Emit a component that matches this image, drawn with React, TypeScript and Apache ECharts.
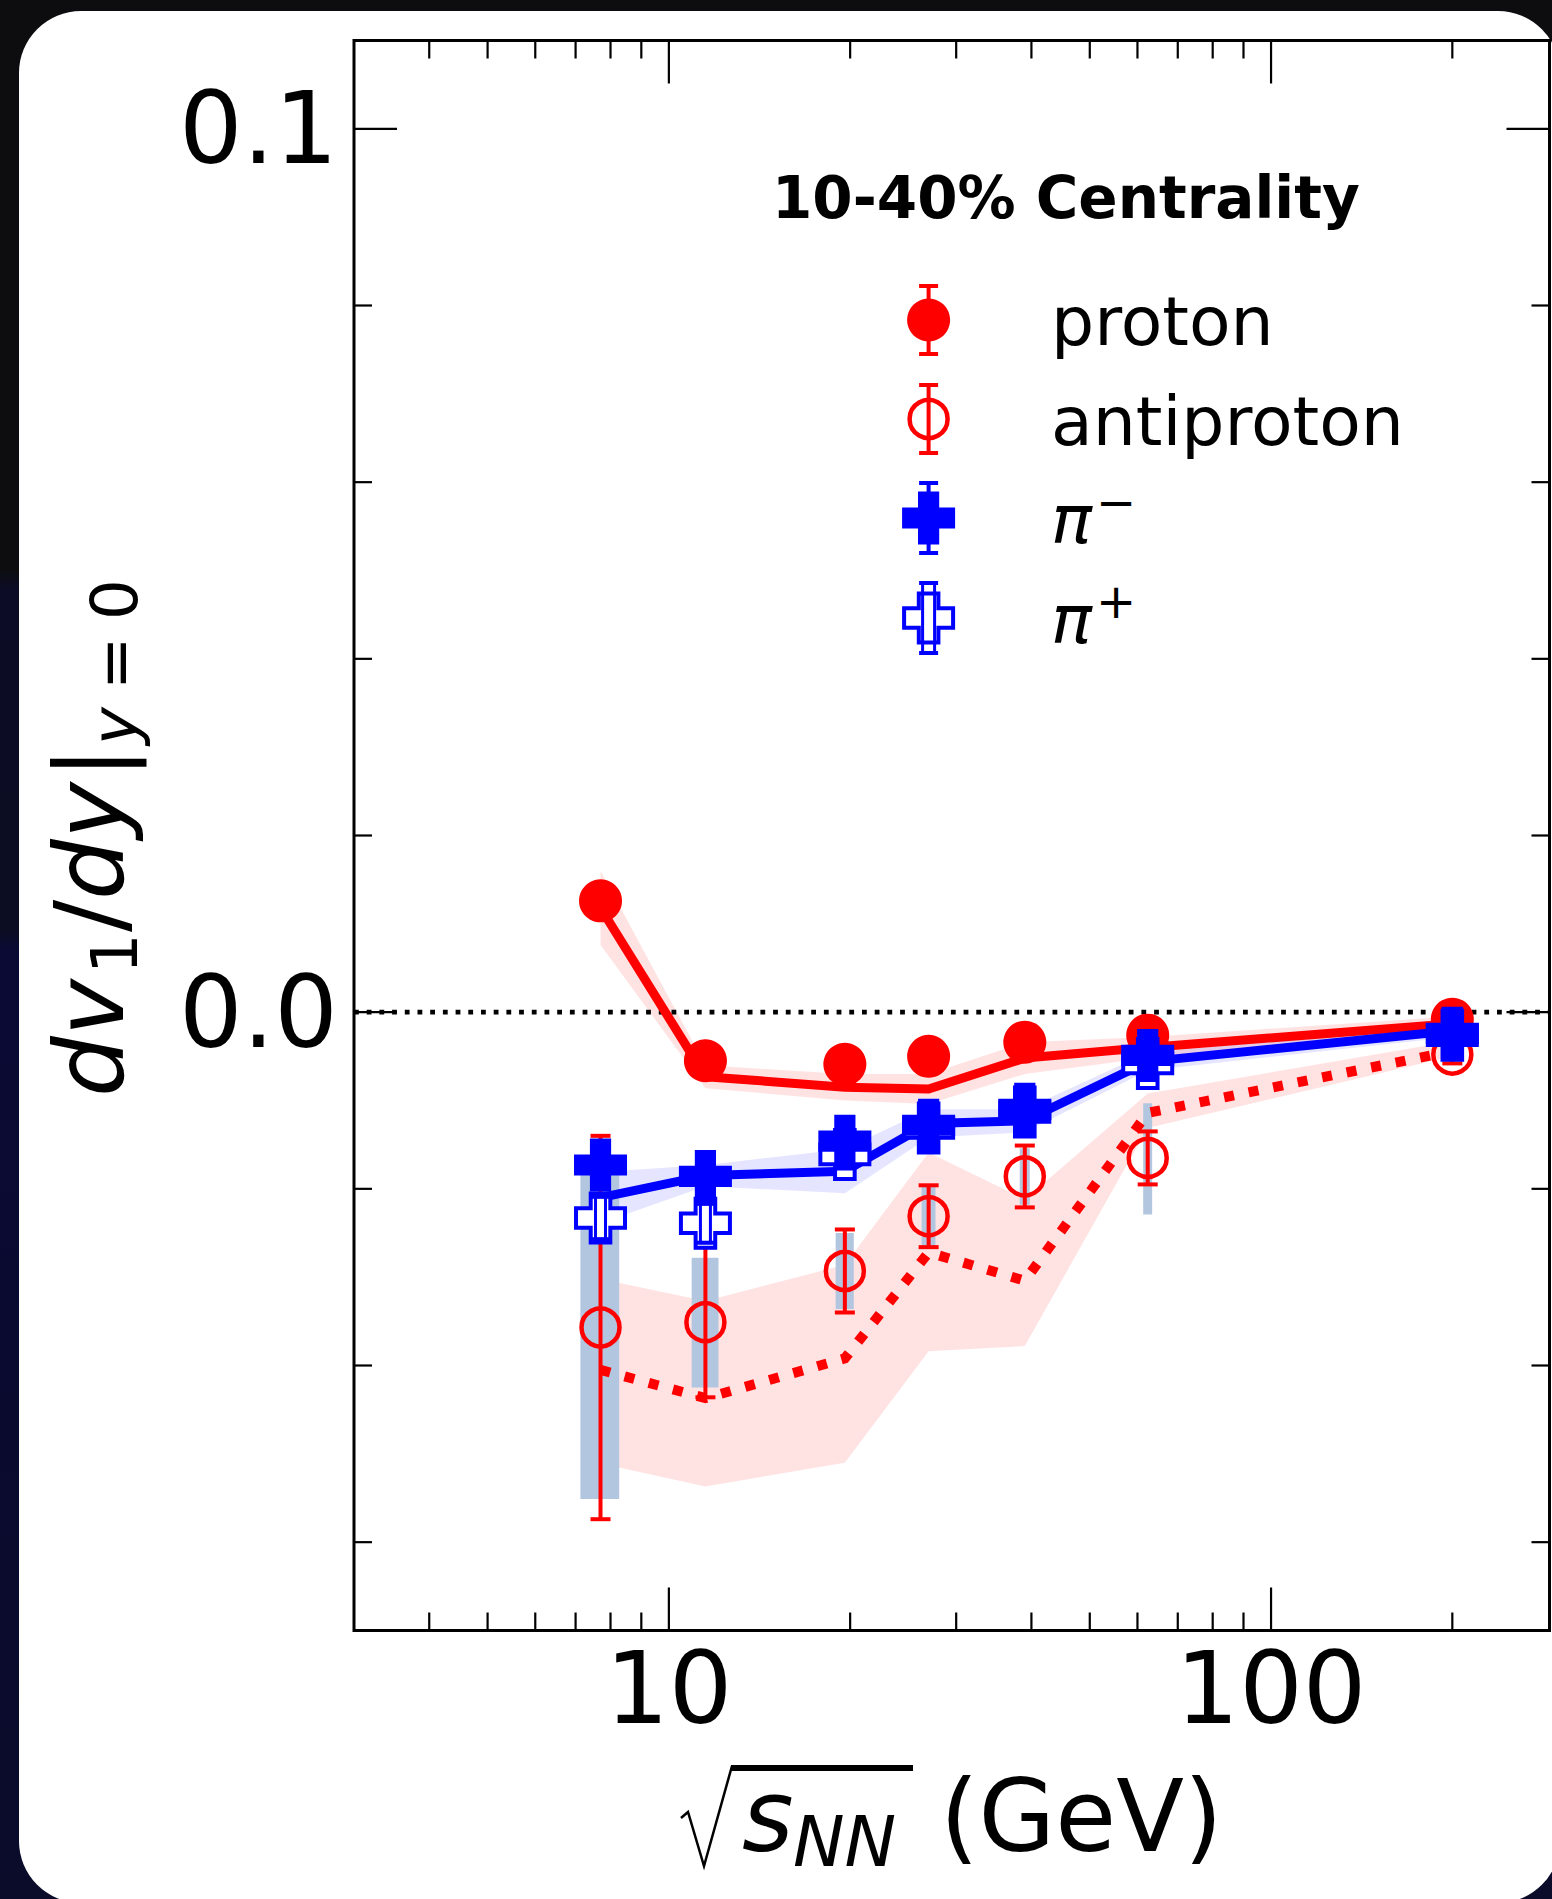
import React, { useEffect, useRef } from 'react';
import * as echarts from 'echarts';

// ---------------- data ----------------
const energies = [7.7, 11.5, 19.6, 27, 39, 62.4, 200];

const protonV = [0.0126, -0.0055, -0.0059, -0.005, -0.0034, -0.0026, -0.0008];
const protonStat = [0.0006, 0.0004, 0.0003, 0.0003, 0.0003, 0.0003, 0.0002];

const antiprotonV = [-0.0357, -0.0351, -0.0293, -0.0231, -0.0186, -0.0165, -0.0048];
const antiprotonStat = [0.0217, 0.0085, 0.0047, 0.0035, 0.0035, 0.003, 0.001];
const antiprotonSysLow = [-0.0551, -0.0425, -0.0336, -0.0267, -0.0218, -0.0229, -0.0054];
const antiprotonSysHigh = [-0.0184, -0.0278, -0.025, -0.0197, -0.0154, -0.0103, -0.0042];
const sysHalfWidthGeV = [0.57, 0.59, 0.68, 0.72, 0.75, 1.07, 1.2];

const piMinusV = [-0.0173, -0.0186, -0.0146, -0.0128, -0.011, -0.0049, -0.0024];
const piMinusStat = [0.0018, 0.0016, 0.0012, 0.001, 0.001, 0.0008, 0.0005];
const piPlusV = [-0.0233, -0.0239, -0.0161, -0.0131, -0.0113, -0.0058, -0.0026];
const piPlusStat = [0.0024, 0.0022, 0.0016, 0.0012, 0.001, 0.001, 0.0006];

const protonModel = [0.0118, -0.0073, -0.0085, -0.0087, -0.0052, -0.004, -0.0013];
const protonModelErr = [0.0042, 0.0013, 0.0015, 0.0017, 0.0018, 0.0012, 0.0008];
const antiprotonModel = [-0.0405, -0.0437, -0.0392, -0.0272, -0.0304, -0.0114, -0.0044];
const antiprotonModelLow = [-0.0511, -0.0537, -0.051, -0.0384, -0.0378, -0.0131, -0.005];
const antiprotonModelHigh = [-0.0302, -0.0327, -0.0286, -0.0159, -0.0212, -0.0092, -0.0033];
const pionModel = [-0.021, -0.0185, -0.018, -0.0126, -0.0123, -0.0056, -0.0021];
const pionModelErr = [0.0029, 0.0012, 0.0025, 0.0016, 0.0013, 0.001, 0.0007];

const zeroLevel = [0];
const xLabelValues = [10, 100];
const yLabelValues = [0, 0.1];
const xMajorTicks = [10, 100];
const xMinorTicks = [4, 5, 6, 7, 8, 9, 20, 30, 40, 50, 60, 70, 80, 90, 200];
const yMajorTicks = [0, 0.1];
const yMinorTicks = [-0.06, -0.04, -0.02, 0.02, 0.04, 0.06, 0.08];

const legendTitle = '10-40% Centrality';
const legendNames = ['proton', 'antiproton'];

// ---------------- styles ----------------
const FONT = 'DejaVu Sans';
const RED = '#ff0000';
const BLUE = '#0000ff';
const SYS = '#b3c6df';
const PINK = 'rgba(255,0,0,0.11)';
const LAV = 'rgba(0,0,255,0.1)';
const PLUS = 'path://M3,0L7,0L7,3L10,3L10,7L7,7L7,10L3,10L3,7L0,7L0,3L3,3Z';

function crossPts(cx: number, cy: number, s: number) {
  const h = s / 2;
  const a = s * 0.2;
  return [
    [cx - a, cy - h], [cx + a, cy - h], [cx + a, cy - a], [cx + h, cy - a],
    [cx + h, cy + a], [cx + a, cy + a], [cx + a, cy + h], [cx - a, cy + h],
    [cx - a, cy + a], [cx - h, cy + a], [cx - h, cy - a], [cx - a, cy - a],
  ];
}

function errRender(color: string, capHalf: number, lw: number) {
  return (params: any, api: any) => {
    const x = api.value(0);
    const v = api.value(1);
    const e = api.value(2);
    const a = api.coord([x, v + e]);
    const b = api.coord([x, v - e]);
    const st = { stroke: color, lineWidth: lw };
    return {
      type: 'group',
      children: [
        { type: 'line', shape: { x1: a[0], y1: a[1], x2: b[0], y2: b[1] }, style: st },
        { type: 'line', shape: { x1: a[0] - capHalf, y1: a[1], x2: a[0] + capHalf, y2: a[1] }, style: st },
        { type: 'line', shape: { x1: b[0] - capHalf, y1: b[1], x2: b[0] + capHalf, y2: b[1] }, style: st },
      ],
    };
  };
}

function openErrRender(color: string, capHalf: number, half: number) {
  return (params: any, api: any) => {
    const x = api.value(0);
    const v = api.value(1);
    const e = api.value(2);
    const a = api.coord([x, v + e]);
    const b = api.coord([x, v - e]);
    const st = { stroke: color, lineWidth: 3 };
    return {
      type: 'group',
      children: [
        { type: 'rect', shape: { x: a[0] - half, y: a[1], width: half * 2, height: b[1] - a[1] }, style: { ...st, fill: 'none' } },
        { type: 'line', shape: { x1: a[0] - capHalf, y1: a[1], x2: a[0] + capHalf, y2: a[1] }, style: { stroke: color, lineWidth: 4 } },
        { type: 'line', shape: { x1: b[0] - capHalf, y1: b[1], x2: b[0] + capHalf, y2: b[1] }, style: { stroke: color, lineWidth: 4 } },
      ],
    };
  };
}

function bandRender(lo: number[], hi: number[], fill: string) {
  return (params: any, api: any) => {
    if (params.dataIndex !== 0) return null;
    const top = energies.map((e, i) => api.coord([e, hi[i]]));
    const bot = energies.map((e, i) => api.coord([e, lo[i]])).reverse();
    return { type: 'polygon', shape: { points: top.concat(bot) }, style: { fill } };
  };
}

function legendErr(cx: number, cy: number, half: number, capHalf: number, color: string) {
  const st = { stroke: color, lineWidth: 4 };
  return [
    { type: 'line', shape: { x1: cx, y1: cy - half, x2: cx, y2: cy + half }, style: st },
    { type: 'line', shape: { x1: cx - capHalf, y1: cy - half, x2: cx + capHalf, y2: cy - half }, style: st },
    { type: 'line', shape: { x1: cx - capHalf, y1: cy + half, x2: cx + capHalf, y2: cy + half }, style: st },
  ];
}

function txt(text: string, x: number, y: number, size: number, opts: any = {}) {
  return {
    type: 'text',
    x,
    y,
    silent: true,
    style: {
      text,
      fill: '#000',
      fontSize: size,
      fontFamily: FONT,
      fontStyle: opts.italic ? 'italic' : 'normal',
      fontWeight: opts.bold ? 'bold' : 'normal',
      align: 'left',
      verticalAlign: 'middle',
    },
  };
}

function buildOption() {
  const lx = 928.6;
  const rows = [320, 419, 518, 618];
  const textX = 1051;

  // y-axis title (rotated group)
  const F = 96;
  const Fs = 64;
  const mc = -0.346 * F;
  const sc = 14 - 0.346 * Fs;
  const yTitle = {
    type: 'group',
    x: 123,
    y: 1097,
    rotation: Math.PI / 2,
    children: [
      txt('dv', 0, mc, F, { italic: true }),
      txt('1', 123, sc, Fs),
      txt('/', 165, mc, F),
      txt('dy', 197, mc, F, { italic: true }),
      txt('|', 318, mc, F),
      txt('y', 352, sc, Fs, { italic: true }),
      txt('=', 407, sc, Fs),
      txt('0', 477, sc, Fs),
    ],
  };

  const xTitle = [
    { type: 'polyline', shape: { points: [[681, 1818], [688, 1812], [704, 1866], [732, 1766]] }, style: { stroke: '#000', lineWidth: 2.5, fill: 'none' } },
    { type: 'rect', shape: { x: 731, y: 1765, width: 182, height: 6 }, style: { fill: '#000' } },
    txt('s', 742, 1816, 99, { italic: true }),
    txt('NN', 793, 1842, 69, { italic: true }),
    txt('(GeV)', 940, 1816, 99),
  ];

  const legend = [
    txt(legendTitle, 772, 198, 58, { bold: true }),
    ...legendErr(lx, rows[0], 34, 9.5, RED),
    { type: 'circle', shape: { cx: lx, cy: rows[0], r: 21.5 }, style: { fill: RED } },
    txt(legendNames[0], textX, rows[0] + 1, 68),
    ...legendErr(lx, rows[1], 34, 9.5, RED),
    { type: 'circle', shape: { cx: lx, cy: rows[1], r: 19 }, style: { fill: 'none', stroke: RED, lineWidth: 4.5 } },
    txt(legendNames[1], textX, rows[1] + 2, 68),
    ...legendErr(lx, rows[2], 35, 9.5, BLUE),
    { type: 'polygon', shape: { points: crossPts(lx, rows[2], 53) }, style: { fill: BLUE } },
    txt('π', textX, rows[2] + 1.5, 68, { italic: true }),
    txt('−', 1096, 502, 48),
    { type: 'polygon', shape: { points: crossPts(lx, rows[3], 49) }, style: { fill: '#fff', stroke: BLUE, lineWidth: 4 } },
    { type: 'rect', shape: { x: lx - 6, y: rows[3] - 35, width: 12, height: 70 }, style: { fill: 'none', stroke: BLUE, lineWidth: 3 } },
    { type: 'line', shape: { x1: lx - 9.5, y1: rows[3] - 35, x2: lx + 9.5, y2: rows[3] - 35 }, style: { stroke: BLUE, lineWidth: 4 } },
    { type: 'line', shape: { x1: lx - 9.5, y1: rows[3] + 35, x2: lx + 9.5, y2: rows[3] + 35 }, style: { stroke: BLUE, lineWidth: 4 } },
    txt('π', textX, rows[3] + 1.5, 68, { italic: true }),
    txt('+', 1096, 601, 48),
  ];

  const tickData = [
    ...xMajorTicks.map((v) => [v, 0, 0]),
    ...xMinorTicks.map((v) => [v, 0, 1]),
    ...yMajorTicks.map((v) => [10, v, 2]),
    ...yMinorTicks.map((v) => [10, v, 3]),
  ];

  return {
    animation: false,
    backgroundColor: 'transparent',
    grid: {
      left: 354,
      right: 2.5,
      top: 40.5,
      bottom: 268.5,
      show: true,
      borderColor: '#000',
      borderWidth: 3,
      backgroundColor: 'transparent',
      containLabel: false,
      outerBoundsMode: 'none',
    },
    xAxis: {
      type: 'log',
      logBase: 10,
      min: 3,
      max: 290,
      axisLine: { show: false },
      axisTick: { show: false },
      splitLine: { show: false },
      minorTick: { show: false },
      axisLabel: {
        fontSize: 100,
        fontFamily: FONT,
        color: '#000',
        margin: 8,
        showMinLabel: false,
        showMaxLabel: false,
        formatter: (v: number) => {
          const m = xLabelValues.find((l) => Math.abs(l - v) < 1e-6);
          return m !== undefined ? String(m) : '';
        },
      },
    },
    yAxis: {
      type: 'value',
      min: -0.07,
      max: 0.11,
      interval: 0.01,
      axisLine: { show: false },
      axisTick: { show: false },
      splitLine: { show: false },
      axisLabel: {
        fontSize: 100,
        fontFamily: FONT,
        color: '#000',
        margin: 16,
        formatter: (v: number) => {
          const m = yLabelValues.find((l) => Math.abs(l - v) < 1e-6);
          return m !== undefined ? m.toFixed(1) : '';
        },
      },
    },
    series: [
      // model bands
      {
        type: 'custom', name: 'proton band', z: 1, silent: true, clip: false,
        data: energies.map((e, i) => [e, protonModel[i] - protonModelErr[i], protonModel[i] + protonModelErr[i]]),
        encode: { x: 0, y: 1 },
        renderItem: bandRender(protonModel.map((m, i) => m - protonModelErr[i]), protonModel.map((m, i) => m + protonModelErr[i]), PINK),
      },
      {
        type: 'custom', name: 'pion band', z: 1, silent: true, clip: false,
        data: energies.map((e, i) => [e, pionModel[i] - pionModelErr[i], pionModel[i] + pionModelErr[i]]),
        encode: { x: 0, y: 1 },
        renderItem: bandRender(pionModel.map((m, i) => m - pionModelErr[i]), pionModel.map((m, i) => m + pionModelErr[i]), LAV),
      },
      {
        type: 'custom', name: 'antiproton band', z: 1, silent: true, clip: false,
        data: energies.map((e, i) => [e, antiprotonModelLow[i], antiprotonModelHigh[i]]),
        encode: { x: 0, y: 1 },
        renderItem: bandRender(antiprotonModelLow, antiprotonModelHigh, PINK),
      },
      // systematic boxes
      {
        type: 'custom', name: 'antiproton sys', z: 2, silent: true, clip: false,
        data: energies.map((e, i) => [e, antiprotonSysLow[i], antiprotonSysHigh[i], sysHalfWidthGeV[i]]),
        encode: { x: 0, y: 1 },
        renderItem: (params: any, api: any) => {
          const e = api.value(0);
          const w = api.value(3);
          const p1 = api.coord([e - w, api.value(2)]);
          const p2 = api.coord([e + w, api.value(1)]);
          return { type: 'rect', shape: { x: p1[0], y: p1[1], width: p2[0] - p1[0], height: p2[1] - p1[1] }, style: { fill: SYS } };
        },
      },
      // zero line
      {
        type: 'custom', name: 'zero', z: 3, silent: true, clip: false,
        data: zeroLevel.map((v) => [10, v]),
        encode: { x: 0, y: 1 },
        renderItem: (params: any, api: any) => {
          const cs = params.coordSys;
          const y = api.coord([api.value(0), api.value(1)])[1];
          return {
            type: 'line',
            shape: { x1: cs.x, y1: y, x2: cs.x + cs.width, y2: y },
            style: { stroke: '#000', lineWidth: 4.8, lineDash: [4.8, 7.9], lineCap: 'butt' },
          };
        },
      },
      // model lines
      {
        type: 'line', name: 'proton model', z: 4, silent: true, symbol: 'none',
        data: energies.map((e, i) => [e, protonModel[i]]),
        lineStyle: { color: RED, width: 9, join: 'round', opacity: 1 },
      },
      {
        type: 'line', name: 'pion model', z: 4, silent: true, symbol: 'none',
        data: energies.map((e, i) => [e, pionModel[i]]),
        lineStyle: { color: BLUE, width: 9, join: 'round', opacity: 1 },
      },
      {
        type: 'line', name: 'antiproton model', z: 4, silent: true, symbol: 'none',
        data: energies.map((e, i) => [e, antiprotonModel[i]]),
        lineStyle: { color: RED, width: 10, type: [10, 15], cap: 'butt', join: 'miter', opacity: 1 },
      },
      // error bars
      {
        type: 'custom', name: 'proton stat', z: 5, silent: true, clip: false,
        data: energies.map((e, i) => [e, protonV[i], protonStat[i]]),
        encode: { x: 0, y: 1 },
        renderItem: errRender(RED, 10, 4),
      },
      {
        type: 'custom', name: 'antiproton stat', z: 5, silent: true, clip: false,
        data: energies.map((e, i) => [e, antiprotonV[i], antiprotonStat[i]]),
        encode: { x: 0, y: 1 },
        renderItem: errRender(RED, 10, 4),
      },
      // markers
      {
        type: 'scatter', name: 'proton', z: 6, silent: true,
        data: energies.map((e, i) => [e, protonV[i]]),
        symbol: 'circle', symbolSize: 43,
        itemStyle: { color: RED, opacity: 1 },
      },
      {
        type: 'scatter', name: 'antiproton', z: 7, silent: true,
        data: energies.map((e, i) => [e, antiprotonV[i]]),
        symbol: 'circle', symbolSize: 38,
        itemStyle: { color: 'rgba(0,0,0,0)', borderColor: RED, borderWidth: 4.5, opacity: 1 },
      },
      {
        type: 'scatter', name: 'π+', z: 8, silent: true,
        data: energies.map((e, i) => [e, piPlusV[i]]),
        symbol: PLUS, symbolSize: 49,
        itemStyle: { color: '#ffffff', borderColor: BLUE, borderWidth: 4, opacity: 1 },
      },
      {
        type: 'custom', name: 'π+ stat', z: 9, silent: true, clip: false,
        data: energies.map((e, i) => [e, piPlusV[i], piPlusStat[i]]),
        encode: { x: 0, y: 1 },
        renderItem: openErrRender(BLUE, 10, 5),
      },
      {
        type: 'custom', name: 'π- stat', z: 10, silent: true, clip: false,
        data: energies.map((e, i) => [e, piMinusV[i], piMinusStat[i]]),
        encode: { x: 0, y: 1 },
        renderItem: errRender(BLUE, 10, 4),
      },
      {
        type: 'scatter', name: 'π-', z: 11, silent: true,
        data: energies.map((e, i) => [e, piMinusV[i]]),
        symbol: PLUS, symbolSize: 53,
        itemStyle: { color: BLUE, opacity: 1 },
      },
      // axis ticks (inward, all four sides)
      {
        type: 'custom', name: 'ticks', z: 20, silent: true, clip: false,
        data: tickData,
        encode: { x: 0, y: 1 },
        renderItem: (params: any, api: any) => {
          const cs = params.coordSys;
          const kind = api.value(2);
          const p = api.coord([api.value(0), api.value(1)]);
          const major = kind === 0 || kind === 2;
          const len = major ? 43 : 18;
          const st = { stroke: '#000', lineWidth: 2.2 };
          if (kind < 2) {
            const x = p[0];
            return {
              type: 'group',
              children: [
                { type: 'line', shape: { x1: x, y1: cs.y + cs.height, x2: x, y2: cs.y + cs.height - len }, style: st },
                { type: 'line', shape: { x1: x, y1: cs.y, x2: x, y2: cs.y + len }, style: st },
              ],
            };
          }
          const y = p[1];
          return {
            type: 'group',
            children: [
              { type: 'line', shape: { x1: cs.x, y1: y, x2: cs.x + len, y2: y }, style: st },
              { type: 'line', shape: { x1: cs.x + cs.width - len, y1: y, x2: cs.x + cs.width, y2: y }, style: st },
            ],
          };
        },
      },
    ],
    graphic: [yTitle, ...xTitle, ...legend],
  };
}

export default function App() {
  const ref = useRef<HTMLDivElement>(null);
  useEffect(() => {
    document.body.style.margin = '0';
    document.documentElement.style.overflow = 'hidden';
    const chart = echarts.init(ref.current as HTMLDivElement, undefined, { renderer: 'svg' });
    chart.setOption(buildOption() as any);
    return () => {
      chart.dispose();
    };
  }, []);
  return (
    <div
      style={{
        position: 'relative',
        width: 1552,
        height: 1899,
        overflow: 'hidden',
        background:
          'linear-gradient(to bottom, #0d0d0f 0%, #0d0d10 30%, #0c0c26 31%, #0c0c22 49%, #0a0a35 50%, #0b0b2a 100%)',
      }}
    >
      <div
        style={{
          position: 'absolute',
          left: 19,
          top: 11,
          width: 1541,
          height: 1892,
          background: '#ffffff',
          borderRadius: 62,
        }}
      />
      <div ref={ref} style={{ position: 'absolute', left: 0, top: 0, width: 1552, height: 1899 }} />
    </div>
  );
}
